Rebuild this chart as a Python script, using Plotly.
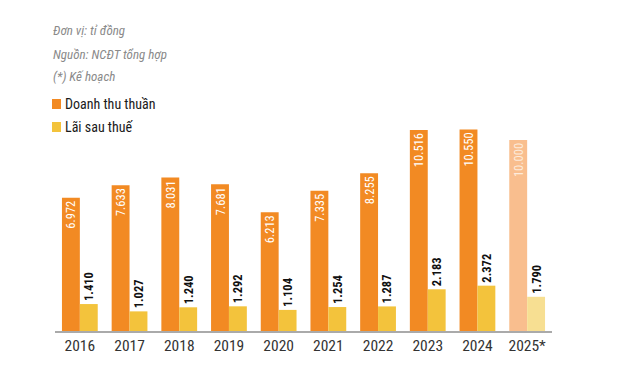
import plotly.graph_objects as go

years = ["2016", "2017", "2018", "2019", "2020", "2021", "2022", "2023", "2024", "2025*"]
revenue = [6972, 7633, 8031, 7681, 6213, 7335, 8255, 10516, 10550, 10000]
profit = [1410, 1027, 1240, 1292, 1104, 1254, 1287, 2183, 2372, 1790]

series_names = ["Doanh thu thuần", "Lãi sau thuế"]
notes = ["Đơn vị: tỉ đồng", "Nguồn: NCĐT tổng hợp", "(*) Kế hoạch"]

ORANGE = "#F28A23"
YELLOW = "#F3C33C"
rev_colors = [ORANGE] * 9 + ["#F9BE8E"]
prof_colors = [YELLOW] * 9 + ["#F7DF92"]
rev_text_colors = ["#FFFFFF"] * 9 + ["#FDEBDB"]

FONT = "Roboto Condensed, Liberation Sans Narrow, DejaVu Sans Condensed, sans-serif"

# page body has an 8px margin; work in page pixels and convert
OFF = 8
W, H = 610, 376
ML, MR, MT, MB = 47, 66, 12, 53
PH = H - MT - MB
BASE = H - MB  # figure pixel y of baseline
PX_PER_UNIT = 0.01911
YMAX = PH / PX_PER_UNIT


def py(ypage):
    return (BASE - (ypage - OFF)) / PH


def px(xpage):
    return ((xpage - OFF) - ML) / (W - ML - MR)


fig = go.Figure()
fig.add_trace(go.Bar(
    x=years, y=revenue, name=series_names[0],
    marker=dict(color=rev_colors, line=dict(width=0)),
    texttemplate="%{y:,.0f}", textposition="inside", insidetextanchor="end",
    textangle=-90, constraintext="none",
    textfont=dict(family=FONT, size=12.5, color=rev_text_colors),
    hoverinfo="skip",
))
fig.add_trace(go.Bar(
    x=years, y=profit, name=series_names[1],
    marker=dict(color=prof_colors, line=dict(width=0)),
    texttemplate="<b>%{y:,.0f}</b>", textposition="outside",
    textangle=-90, constraintext="none", cliponaxis=False,
    textfont=dict(family=FONT, size=12.5, color="#111111"),
    hoverinfo="skip",
))

fig.update_layout(
    width=W, height=H,
    margin=dict(l=ML, r=MR, t=MT, b=MB, pad=0, autoexpand=False),
    paper_bgcolor="white", plot_bgcolor="white",
    separators=",.",
    barmode="group", bargap=0.28, bargroupgap=0,
    font=dict(family=FONT, size=13, color="#333333"),
    showlegend=False,
    xaxis=dict(
        type="category", range=[-0.5, 9.5], automargin=False,
        showline=True, linecolor="#AAAAAA", linewidth=1.5,
        ticks="", tickfont=dict(family=FONT, size=15.5, color="#333333"),
        showgrid=False, zeroline=False,
    ),
    yaxis=dict(
        range=[0, YMAX], visible=False, showgrid=False, zeroline=False,
        automargin=False,
    ),
)

# notes (italic, gray)
for i, t in enumerate(notes):
    fig.add_annotation(
        text="<i>" + t + "</i>", xref="paper", yref="paper",
        x=px(51), y=py(31 + i * 23), xanchor="left", yanchor="middle",
        showarrow=False,
        font=dict(family=FONT, size=13, color="#8A8A8A"),
    )

# legend (manual swatches + labels)
for i, (name, col) in enumerate(zip(series_names, [ORANGE, YELLOW])):
    yc = 104 + i * 23
    fig.add_shape(
        type="rect", xref="paper", yref="paper",
        x0=px(52), x1=px(61), y0=py(yc + 5), y1=py(yc - 5),
        fillcolor=col, line=dict(width=0),
    )
    fig.add_annotation(
        text=name, xref="paper", yref="paper",
        x=px(63), y=py(yc), xanchor="left", yanchor="middle",
        showarrow=False,
        font=dict(family=FONT, size=14, color="#1A1A1A"),
    )

fig.write_html("out.html")
